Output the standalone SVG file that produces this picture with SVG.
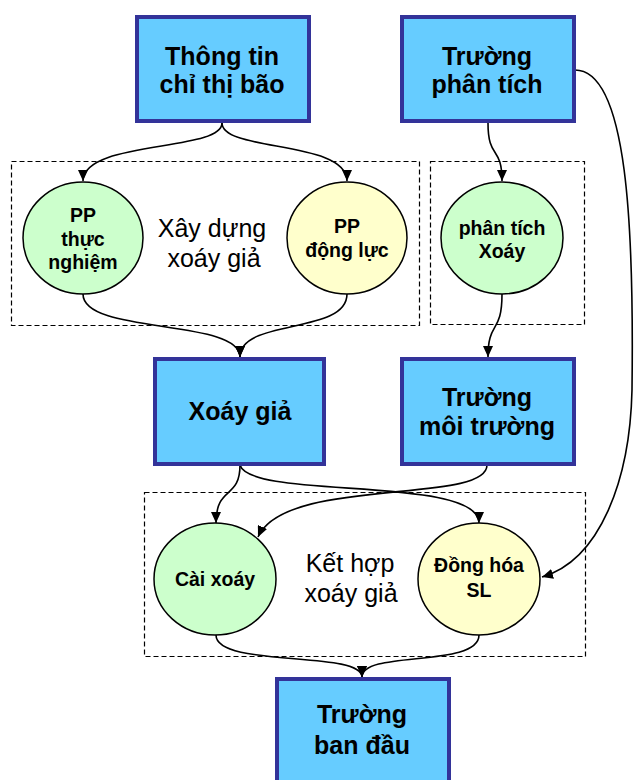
<svg xmlns="http://www.w3.org/2000/svg" width="635" height="780" viewBox="0 0 635 780">
<defs>
<style>
.box{fill:#66CCFF;stroke:#333399;stroke-width:4}
.green{fill:#CCFFCC;stroke:#000;stroke-width:1.5}
.yellow{fill:#FFFFCC;stroke:#000;stroke-width:1.5}
.dash{fill:none;stroke:#000;stroke-width:1.2;stroke-dasharray:5,3}
.bt{font-family:"Liberation Sans",Arial,sans-serif;font-weight:bold;font-size:25px;fill:#000;text-anchor:middle}
.ct{font-family:"Liberation Sans",Arial,sans-serif;font-weight:bold;font-size:19.5px;fill:#000;text-anchor:middle}
.rt{font-family:"Liberation Sans",Arial,sans-serif;font-size:25px;fill:#000;text-anchor:middle}
.con path{fill:none;stroke:#000;stroke-width:1.6;marker-end:url(#arr)}
</style>
<marker id="arr" markerUnits="userSpaceOnUse" markerWidth="11" markerHeight="10" refX="11" refY="5" orient="auto">
<path d="M0,0 L11,5 L0,10 z" fill="#000"/>
</marker>
</defs>
<rect width="635" height="780" fill="#fff"/>
<g id="groups">
<rect class="dash" x="11.5" y="161.5" width="408" height="164"/>
<rect class="dash" x="430.5" y="161.5" width="154" height="163"/>
<rect class="dash" x="144.5" y="492.5" width="441" height="164"/>
<text class="rt" x="212" y="237">Xây dựng</text>
<text class="rt" x="214" y="267">xoáy giả</text>
<text class="rt" x="350" y="572">Kết hợp</text>
<text class="rt" x="351" y="602">xoáy giả</text>
</g>
<g class="con" id="connectors">
<path d="M222,123 C222,152 83,140 83,181"/>
<path d="M222,123 C222,152 347,140 347,181"/>
<path d="M83,294 C83,335 240,318 240,357"/>
<path d="M347,294 C347,335 240,318 240,357"/>
<path d="M488,123 C488,160 502,145 502,181"/>
<path d="M502,294 C502,335 488,320 488,357"/>
<path d="M575,70 C628,70 634,230 632,390 C630,480 600,560 542,577"/>
<path d="M240,465 C240,500 216,485 216,523"/>
<path d="M240,465 C250,500 479,475 479,523"/>
<path d="M487,465 C487,505 285,476 258,537"/>
<path d="M216,635 C216,668 362,650 362,677"/>
<path d="M479,635 C479,668 362,650 362,677"/>
</g>
<g id="n_thongtin">
<rect class="box" x="137" y="17" width="172" height="104"/>
<text class="bt" x="222" y="65">Thông tin</text>
<text class="bt" x="222" y="93">chỉ thị bão</text>
</g>
<g id="n_truongphantich">
<rect class="box" x="402" y="17" width="172" height="104"/>
<text class="bt" x="487" y="65">Trường</text>
<text class="bt" x="487" y="93">phân tích</text>
</g>
<g id="n_ppthucnghiem">
<ellipse class="green" cx="83" cy="238" rx="60" ry="56"/>
<text class="ct" x="83" y="222">PP</text>
<text class="ct" x="83" y="246">thực</text>
<text class="ct" x="83" y="269">nghiệm</text>
</g>
<g id="n_ppdongluc">
<ellipse class="yellow" cx="347" cy="238" rx="60" ry="56"/>
<text class="ct" x="347" y="233">PP</text>
<text class="ct" x="347" y="257">động lực</text>
</g>
<g id="n_phantichxoay">
<ellipse class="green" cx="502" cy="238" rx="61" ry="56"/>
<text class="ct" x="502" y="235">phân tích</text>
<text class="ct" x="502" y="258">Xoáy</text>
</g>
<g id="n_xoaygia">
<rect class="box" x="155" y="359" width="169" height="105"/>
<text class="bt" x="240" y="420">Xoáy giả</text>
</g>
<g id="n_truongmoitruong">
<rect class="box" x="402" y="359" width="172" height="105"/>
<text class="bt" x="487" y="406">Trường</text>
<text class="bt" x="487" y="435">môi trường</text>
</g>
<g id="n_caixoay">
<ellipse class="green" cx="215" cy="579" rx="61" ry="56"/>
<text class="ct" x="215" y="586">Cài xoáy</text>
</g>
<g id="n_donghoa">
<ellipse class="yellow" cx="479" cy="579" rx="61" ry="56"/>
<text class="ct" x="479" y="572">Đồng hóa</text>
<text class="ct" x="479" y="597">SL</text>
</g>
<g id="n_truongbandau">
<rect class="box" x="277" y="679" width="172" height="110"/>
<text class="bt" x="362" y="723">Trường</text>
<text class="bt" x="362" y="754">ban đầu</text>
</g>
</svg>
